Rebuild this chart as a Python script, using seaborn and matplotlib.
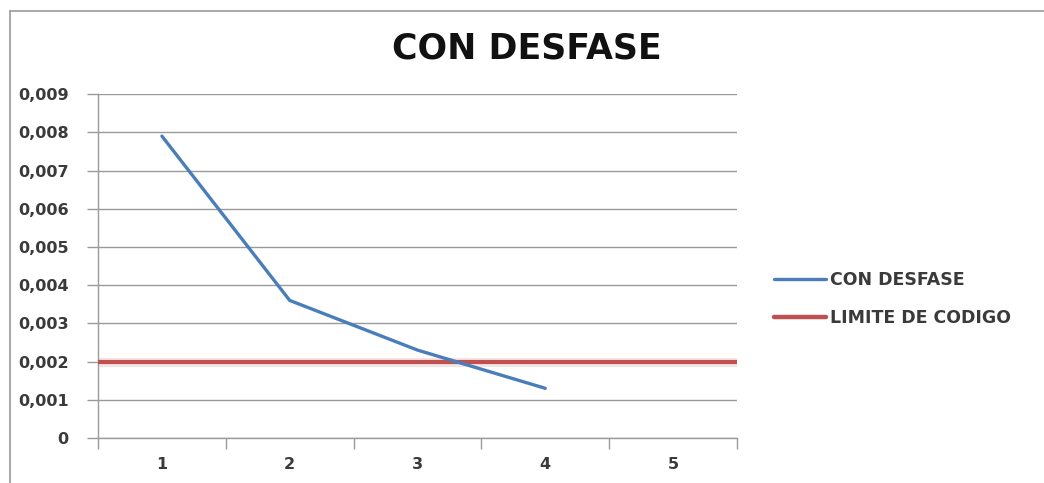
import matplotlib
matplotlib.use("Agg")
import matplotlib.pyplot as plt
from matplotlib.lines import Line2D
import seaborn as sns
import pandas as pd

# Series data
categories = [1, 2, 3, 4, 5]
con_desfase_x = [1, 2, 3, 4]
con_desfase = [0.0079, 0.0036, 0.0023, 0.0013]
limite_codigo = 0.002
y_ticks = [0, 0.001, 0.002, 0.003, 0.004, 0.005, 0.006, 0.007, 0.008, 0.009]
y_labels = ["0", "0,001", "0,002", "0,003", "0,004", "0,005", "0,006", "0,007", "0,008", "0,009"]

sns.set_style("white")
plt.rcParams["font.family"] = ["DejaVu Sans"]

blue = "#4a7ebb"
red = "#c0504d"
grid_gray = "#9a9a9a"

fig = plt.figure(figsize=(10.44, 4.83), dpi=100)
ax = fig.add_axes([0.0939, 0.0932, 0.612, 0.712])

df = pd.DataFrame({"x": con_desfase_x, "y": con_desfase})
sns.lineplot(data=df, x="x", y="y", ax=ax, color=blue, linewidth=2.4, zorder=4)
ax.axhline(limite_codigo, color=red, linewidth=3.0, zorder=3, solid_capstyle="butt")
ax.axhline(limite_codigo, color=red, linewidth=6.5, alpha=0.15, zorder=2)

ax.set_xlim(0.5, 5.5)
ax.set_ylim(0, 0.009)
ax.set_yticks(y_ticks)
ax.set_yticklabels(y_labels)
ax.set_xticks(categories)
ax.set_xticklabels([str(c) for c in categories])
ax.set_xticks([c - 0.5 for c in categories] + [5.5], minor=True)
ax.tick_params(axis="x", which="major", bottom=False, length=0, pad=14,
               labelsize=11.5, labelcolor="#3a3a3a")
ax.tick_params(axis="x", which="minor", bottom=True, length=8, width=1,
               color=grid_gray, direction="out")
ax.tick_params(axis="y", which="major", left=True, length=8, width=1, color=grid_gray,
               direction="out", pad=13, labelsize=11.5, labelcolor="#3a3a3a")
for lbl in ax.get_xticklabels() + ax.get_yticklabels():
    lbl.set_fontweight("bold")

ax.yaxis.grid(True, color=grid_gray, linewidth=1)
ax.xaxis.grid(False)
ax.set_axisbelow(True)
for side in ["top", "right"]:
    ax.spines[side].set_visible(False)
for side in ["left", "bottom"]:
    ax.spines[side].set_color(grid_gray)
    ax.spines[side].set_linewidth(1)
ax.set_xlabel("")
ax.set_ylabel("")

fig.text(0.505, 0.9, "CON DESFASE", ha="center", va="center", fontsize=25,
         fontweight="bold", color="#111111")

# Chart frame
fig.add_artist(Line2D([0.0096, 0.0096], [0.0, 0.977], color="#999999", linewidth=1.2))
fig.add_artist(Line2D([0.0096, 1.0], [0.977, 0.977], color="#999999", linewidth=1.2))

handles = [Line2D([], [], color=blue, linewidth=2.4),
           Line2D([], [], color=red, linewidth=3.2)]
fig.legend(handles, ["CON DESFASE", "LIMITE DE CODIGO"], loc="center left",
           bbox_to_anchor=(0.733, 0.38), frameon=False, borderpad=0, handlelength=3.0,
           handletextpad=0.25, labelspacing=1.15, prop={"size": 12.5, "weight": "bold"},
           labelcolor="#3a3a3a")

fig.savefig("out.png", dpi=100)
